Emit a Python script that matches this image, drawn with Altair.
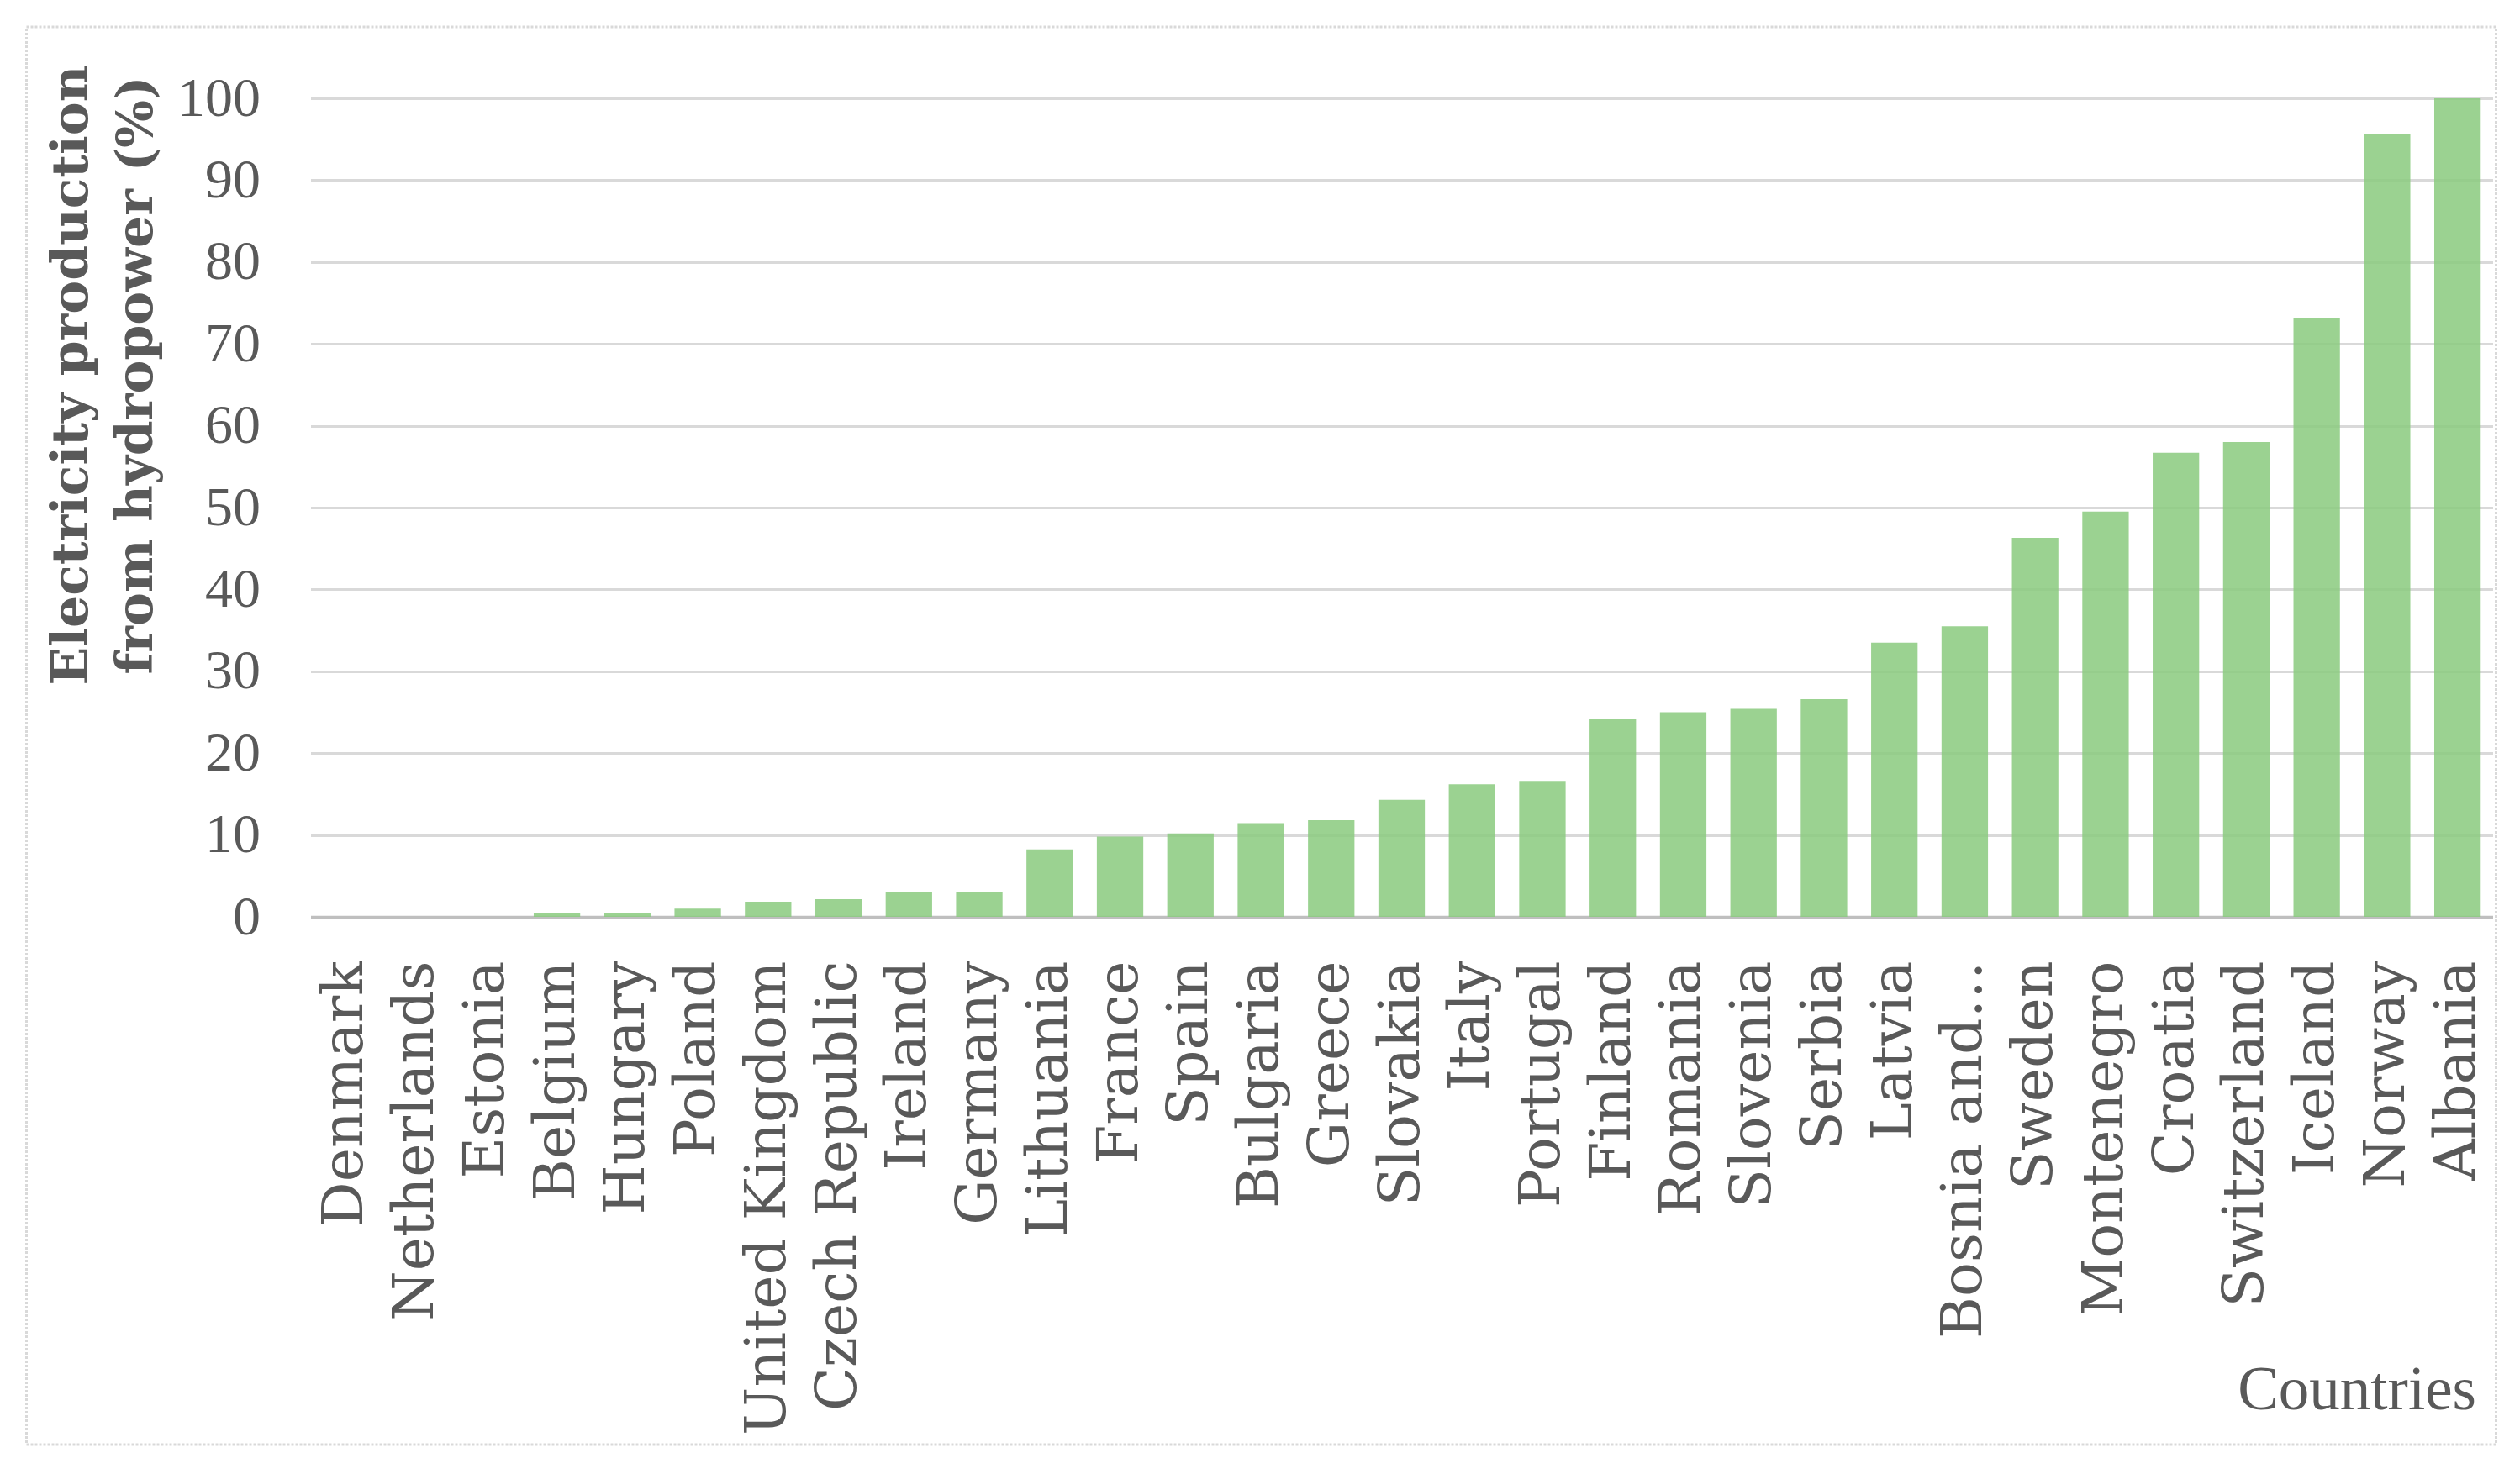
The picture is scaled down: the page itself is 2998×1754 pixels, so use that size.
import altair as alt
import pandas as pd

countries = ["Denmark", "Netherlands", "Estonia", "Belgium", "Hungary", "Poland",
             "United Kingdom", "Czech Republic", "Ireland", "Germany", "Lithuania",
             "France", "Spain", "Bulgaria", "Greece", "Slovakia", "Italy", "Portugal",
             "Finland", "Romania", "Slovenia", "Serbia", "Latvia",
             "Bosnia and Herzegovina", "Sweden", "Montenegro", "Croatia",
             "Switzerland", "Iceland", "Norway", "Albania"]
values = [0.0, 0.0, 0.0, 0.5, 0.5, 1.0, 1.85, 2.15, 3.0, 3.0, 8.25,
          9.8, 10.2, 11.45, 11.8, 14.3, 16.2, 16.6,
          24.2, 25.0, 25.4, 26.6, 33.5,
          35.5, 46.3, 49.5, 56.7,
          58.0, 73.2, 95.6, 100.0]
y_ticks = list(range(0, 101, 10))
y_title = ["Electricity production", "from hydropower (%)"]
x_title = "Countries"

df = pd.DataFrame({"Country": countries, "Value": values})

TXT = "#595959"

bars = alt.Chart(df).mark_bar(color="#89ca7e", opacity=0.85).encode(
    x=alt.X("Country:N", sort=countries,
            scale=alt.Scale(paddingInner=0.34, paddingOuter=0.17),
            axis=alt.Axis(
                title=x_title, labelAngle=-90, labelFont="DejaVu Serif",
                labelFontSize=68, labelColor=TXT, labelPadding=52,
                labelLimit=2000, labelOverlap=False, ticks=False,
                domainColor="#bfbfbf", domainWidth=3.5,
                labelExpr="datum.value == 'Bosnia and Herzegovina' ? 'Bosnia and…' : datum.value",
                titleFont="Liberation Serif", titleFontSize=73,
                titleFontWeight="normal", titleColor=TXT,
                titleX=2576, titleY=563, titleAlign="right",
                titleBaseline="middle")),
    y=alt.Y("Value:Q", scale=alt.Scale(domain=[0, 100], nice=False),
            axis=alt.Axis(
                values=y_ticks, title=y_title, domain=False, ticks=False,
                labelFont="Liberation Serif", labelFontSize=66,
                labelColor=TXT, labelPadding=60,
                gridColor="#d9d9d9", gridWidth=3,
                titleFont="DejaVu Serif", titleFontWeight="bold",
                titleFontSize=60, titleColor=TXT, titleAngle=-90,
                titleX=-284, titleY=329, titleAlign="center",
                titleBaseline="middle", titleLineHeight=77)),
)

border = alt.Chart(pd.DataFrame({"k": [0]})).mark_rect(
    filled=False, stroke="#d9d9d9", strokeWidth=3, strokeDash=[3, 2]
).encode(x=alt.value(-338), x2=alt.value(2600), y=alt.value(-85), y2=alt.value(1602))

chart = alt.layer(border, bars).properties(
    width=2596, height=974,
    autosize=alt.AutoSizeParams(type="none"),
    padding={"left": 361.5, "top": 109, "right": 20, "bottom": 640},
    background="white",
).configure_view(stroke=None)

chart.save("out.html", embed_options={"renderer": "svg", "actions": False})
